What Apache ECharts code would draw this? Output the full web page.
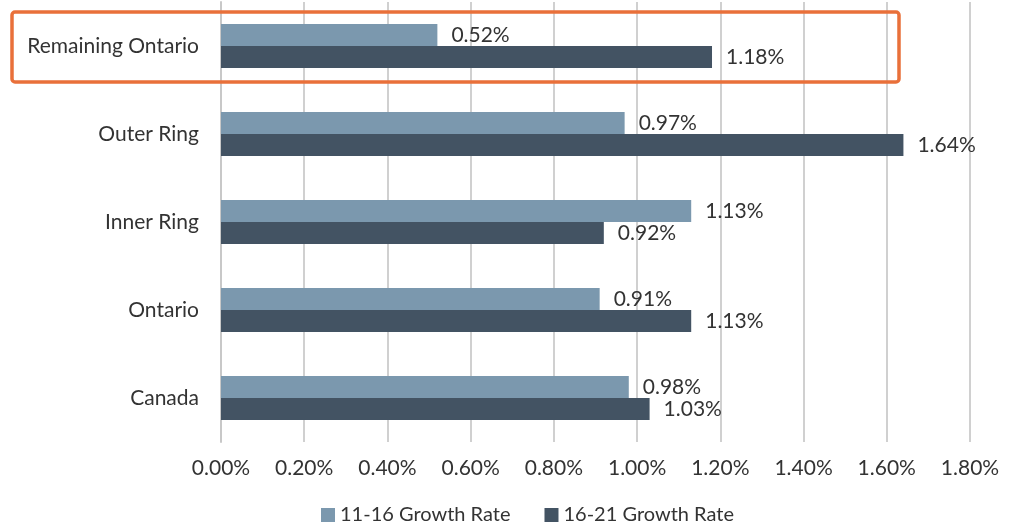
<!DOCTYPE html>
<html><head><meta charset="utf-8">
<script src="https://cdn.jsdelivr.net/npm/echarts@6/dist/echarts.min.js"></script>
<style>html,body{margin:0;padding:0;background:#fff}#c{width:1017px;height:530px}</style>
</head><body><div id="c"></div>
<script>
const categories = ['Remaining Ontario', 'Outer Ring', 'Inner Ring', 'Ontario', 'Canada'];
const growth1116 = [0.52, 0.97, 1.13, 0.91, 0.98];
const growth1621 = [1.18, 1.64, 0.92, 1.13, 1.03];
const seriesNames = ['11-16 Growth Rate', '16-21 Growth Rate'];
const xTicks = { min: 0, max: 1.8, interval: 0.2 };
const highlightCategory = 'Remaining Ontario';

const FONT = 'Lato';
const chart = echarts.init(document.getElementById('c'), null, { renderer: 'canvas' });
const lbl = { show: true, position: 'right', distance: 14, color: '#333', fontFamily: FONT, fontSize: 21,
  formatter: p => p.value.toFixed(2) + '%' };
chart.setOption({
  animation: false,
  textStyle: { fontFamily: FONT },
  grid: { left: 221, right: 47, top: 2, bottom: 88, containLabel: false },
  legend: { bottom: 0, left: 316, itemWidth: 14, itemHeight: 14, itemGap: 34,
    textStyle: { fontFamily: FONT, fontSize: 20, color: '#333' }, icon: 'rect', data: seriesNames },
  xAxis: { type: 'value', min: xTicks.min, max: xTicks.max, interval: xTicks.interval,
    axisLine: { show: false }, axisTick: { show: false },
    splitLine: { lineStyle: { color: '#d0d0d0', width: 2 } },
    axisLabel: { formatter: v => v.toFixed(2) + '%', color: '#333', fontFamily: FONT, fontSize: 21, margin: 16 } },
  yAxis: { type: 'category', data: categories, inverse: true,
    axisLine: { lineStyle: { color: '#c8c8c8', width: 2 } }, axisTick: { show: false },
    axisLabel: { color: '#333', fontFamily: FONT, fontSize: 21, margin: 22 } },
  series: [
    { name: seriesNames[0], type: 'bar', data: growth1116, barWidth: 22, barGap: '0%',
      itemStyle: { color: '#7b98ae' }, label: lbl },
    { name: seriesNames[1], type: 'bar', data: growth1621, barWidth: 22, barGap: '0%',
      itemStyle: { color: '#435363' }, label: lbl }
  ]
});
const yc = chart.convertToPixel({ yAxisIndex: 0 }, highlightCategory);
chart.setOption({ graphic: [{ type: 'rect', shape: { x: 12, y: yc - 34, width: 887, height: 70, r: 3 },
  style: { fill: 'none', stroke: '#e9703a', lineWidth: 3.5 }, z: 100 }] });
</script></body></html>
